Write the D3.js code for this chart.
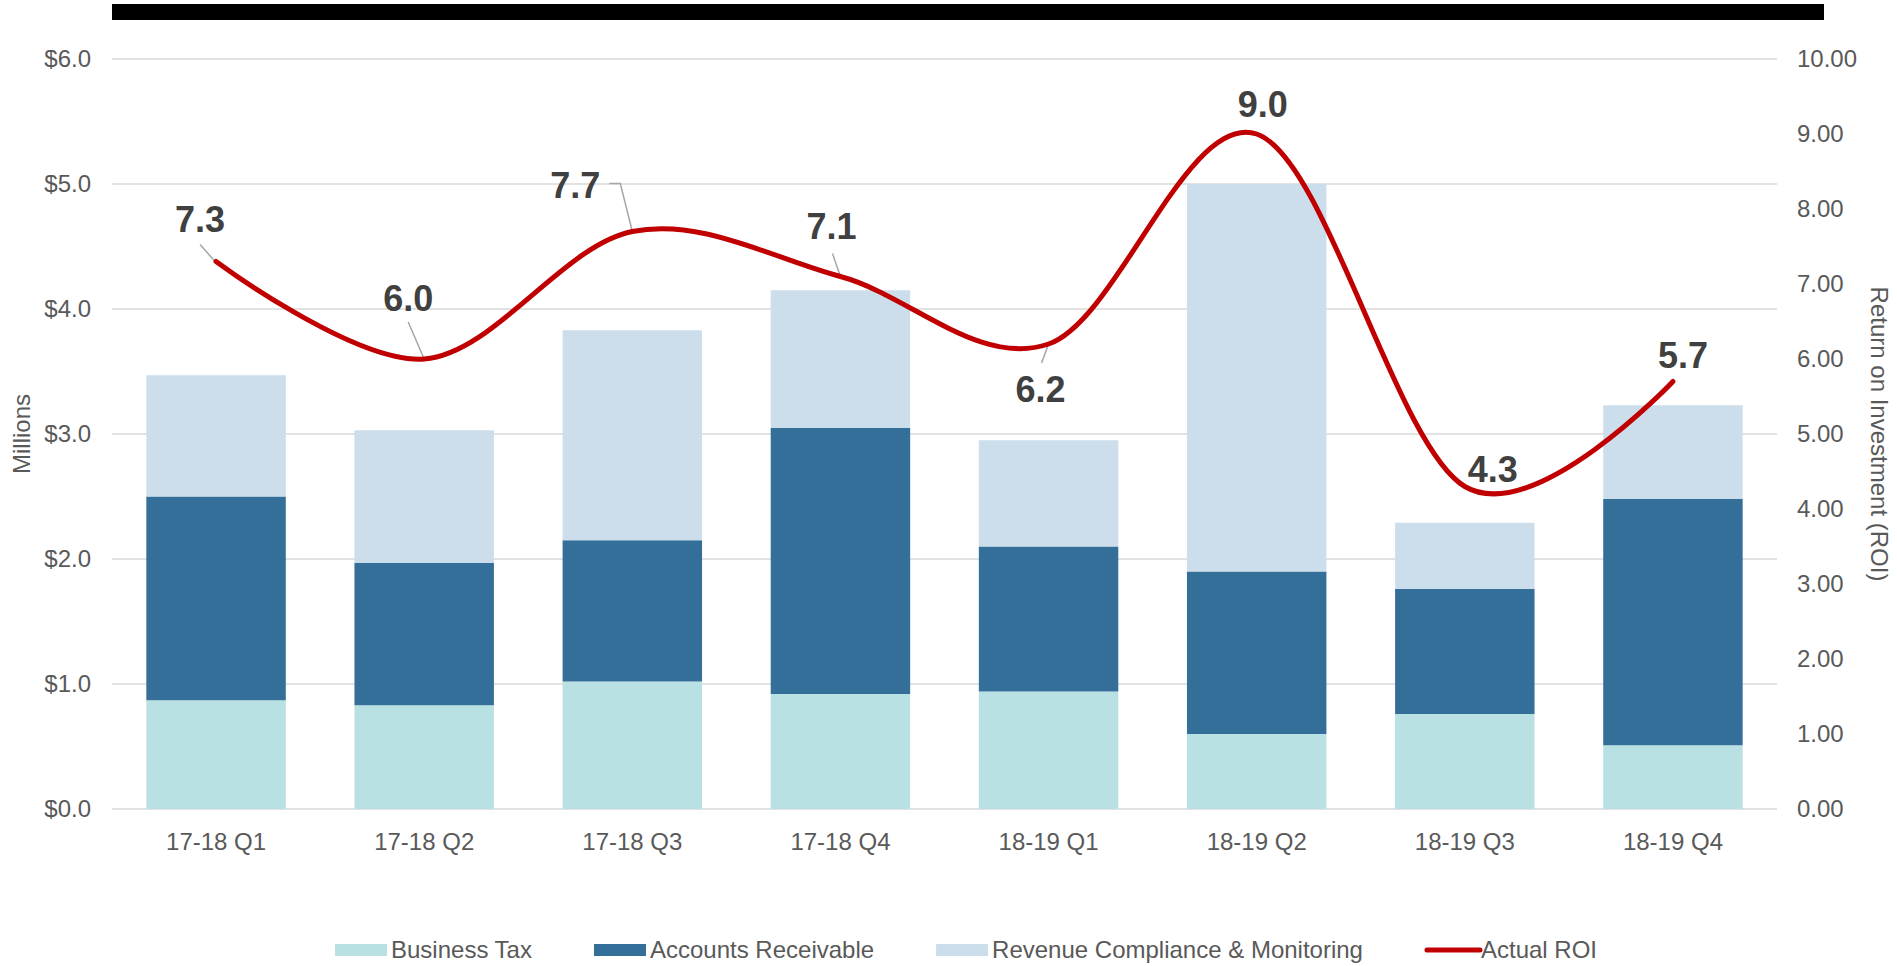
<!DOCTYPE html>
<html>
<head>
<meta charset="utf-8">
<script src="https://cdn.jsdelivr.net/npm/d3@7"></script>
<style>
  body { margin: 0; background: #fff; }
  svg { display: block; font-family: "Liberation Sans", Arial, sans-serif; }
</style>
</head>
<body>
<div id="chart"></div>
<script>
// chart values
const quarters = ["17-18 Q1", "17-18 Q2", "17-18 Q3", "17-18 Q4", "18-19 Q1", "18-19 Q2", "18-19 Q3", "18-19 Q4"]
const businessTax = [0.87, 0.83, 1.02, 0.92, 0.94, 0.60, 0.76, 0.51]
const accountsReceivable = [1.63, 1.14, 1.13, 2.13, 1.16, 1.30, 1.00, 1.97]
const revenueCompliance = [0.97, 1.06, 1.68, 1.10, 0.85, 3.10, 0.53, 0.75]
const actualROI = [7.3, 6.0, 7.7, 7.1, 6.2, 9.0, 4.3, 5.7]
const leftTicks = [0, 1, 2, 3, 4, 5, 6]
const rightTicks = [0, 1, 2, 3, 4, 5, 6, 7, 8, 9, 10]
const seriesNames = ["Business Tax", "Accounts Receivable", "Revenue Compliance & Monitoring", "Actual ROI"]

const width = 1897
const height = 966
const plotLeft = 112, plotRight = 1777, plotTop = 59, plotBottom = 809

const colors = {
  "Business Tax": "#B9E0E3",
  "Accounts Receivable": "#336F99",
  "Revenue Compliance & Monitoring": "#CCDEEC",
  "Actual ROI": "#C00000"
}

// label offsets from each ROI point (label centre/baseline + leader path)
const labelPlacement = [
  { dx: -16, dy: -30, leader: [[-16, -17], [-1, 0]] },
  { dx: -16, dy: -48, leader: [[-16, -37], [0, 0]] },
  { dx: -57, dy: -34, leader: [[-23, -48], [-12, -48], [0, 0]] },
  { dx: -9, dy: -38, leader: [[-8, -23], [0, 0]] },
  { dx: -8, dy: 58, leader: [[-7, 19], [0, 0]] },
  { dx: 6, dy: -17, leader: null },
  { dx: 28, dy: -5, leader: null },
  { dx: 10, dy: -14, leader: null }
]

const svg = d3.select("#chart").append("svg")
  .attr("width", width)
  .attr("height", height)

// black band at top
svg.append("rect")
  .attr("x", 112).attr("y", 4)
  .attr("width", 1712).attr("height", 16)
  .attr("fill", "#000")

const x = d3.scaleBand()
  .domain(quarters)
  .range([plotLeft, plotRight])
  .paddingInner(0.33)
  .paddingOuter(0.165)

const yLeft = d3.scaleLinear().domain([0, 6]).range([plotBottom, plotTop])
const yRight = d3.scaleLinear().domain([0, 10]).range([plotBottom, plotTop])

// gridlines
svg.append("g")
  .selectAll("line")
  .data(leftTicks)
  .join("line")
  .attr("x1", plotLeft).attr("x2", plotRight)
  .attr("y1", d => yLeft(d)).attr("y2", d => yLeft(d))
  .attr("stroke", "#D9D9D9")
  .attr("stroke-width", 1.4)

// stacked bars
const rows = quarters.map((q, i) => ({
  quarter: q,
  "Business Tax": businessTax[i],
  "Accounts Receivable": accountsReceivable[i],
  "Revenue Compliance & Monitoring": revenueCompliance[i]
}))
const stack = d3.stack().keys(seriesNames.slice(0, 3))(rows)

svg.append("g")
  .selectAll("g")
  .data(stack)
  .join("g")
  .attr("fill", d => colors[d.key])
  .selectAll("rect")
  .data(d => d)
  .join("rect")
  .attr("x", d => x(d.data.quarter))
  .attr("width", x.bandwidth())
  .attr("y", d => yLeft(d[1]))
  .attr("height", d => yLeft(d[0]) - yLeft(d[1]))

// axes
const leftAxis = d3.axisLeft(yLeft).tickValues(leftTicks)
  .tickFormat(d => "$" + d3.format(".1f")(d)).tickSize(0).tickPadding(21)
const rightAxis = d3.axisRight(yRight).tickValues(rightTicks)
  .tickFormat(d3.format(".2f")).tickSize(0).tickPadding(20)
const bottomAxis = d3.axisBottom(x).tickSize(0).tickPadding(24)

svg.append("g").attr("transform", `translate(${plotLeft},0)`).call(leftAxis)
svg.append("g").attr("transform", `translate(${plotRight},0)`).call(rightAxis)
svg.append("g").attr("transform", `translate(0,${plotBottom})`).call(bottomAxis)

svg.selectAll(".domain").remove()
svg.selectAll(".tick text")
  .attr("fill", "#595959")
  .attr("font-size", 24)
  .attr("font-family", "Liberation Sans, Arial, sans-serif")

// axis titles
svg.append("text")
  .attr("transform", `translate(22,${(plotTop + plotBottom) / 2}) rotate(-90)`)
  .attr("text-anchor", "middle")
  .attr("dy", "0.35em")
  .attr("font-size", 24)
  .attr("fill", "#595959")
  .text("Millions")

svg.append("text")
  .attr("transform", `translate(1879,${(plotTop + plotBottom) / 2}) rotate(90)`)
  .attr("text-anchor", "middle")
  .attr("dy", "0.35em")
  .attr("font-size", 24)
  .attr("fill", "#595959")
  .text("Return on Investment (ROI)")

// ROI line
const cx = q => x(q) + x.bandwidth() / 2
const roiLine = d3.line()
  .x((d, i) => cx(quarters[i]))
  .y(d => yRight(d))
  .curve(d3.curveCatmullRom.alpha(0))

// leader lines
const leaders = svg.append("g")
actualROI.forEach((v, i) => {
  const p = labelPlacement[i]
  if (!p.leader) return
  const px = cx(quarters[i]), py = yRight(v)
  leaders.append("path")
    .attr("d", d3.line()(p.leader.map(([a, b]) => [px + a, py + b])))
    .attr("fill", "none")
    .attr("stroke", "#A6A6A6")
    .attr("stroke-width", 1.5)
})

svg.append("path")
  .datum(actualROI)
  .attr("d", roiLine)
  .attr("fill", "none")
  .attr("stroke", colors["Actual ROI"])
  .attr("stroke-width", 5)
  .attr("stroke-linecap", "round")

// ROI labels
svg.append("g")
  .selectAll("text")
  .data(actualROI)
  .join("text")
  .attr("x", (d, i) => cx(quarters[i]) + labelPlacement[i].dx)
  .attr("y", (d, i) => yRight(d) + labelPlacement[i].dy)
  .attr("text-anchor", "middle")
  .attr("font-size", 36)
  .attr("font-weight", "bold")
  .attr("fill", "#404040")
  .text(d => d3.format(".1f")(d))

// legend
const legend = svg.append("g")
let lx = 335
const ly = 950
seriesNames.forEach(name => {
  if (name === "Actual ROI") {
    legend.append("line")
      .attr("x1", lx + 2).attr("x2", lx + 55)
      .attr("y1", ly).attr("y2", ly)
      .attr("stroke", colors[name])
      .attr("stroke-width", 5)
      .attr("stroke-linecap", "round")
  } else {
    legend.append("rect")
      .attr("x", lx).attr("y", ly - 6)
      .attr("width", 52).attr("height", 12)
      .attr("fill", colors[name])
  }
  const t = legend.append("text")
    .attr("x", lx + 56)
    .attr("y", ly)
    .attr("dy", "0.35em")
    .attr("font-size", 24)
    .attr("fill", "#595959")
    .text(name)
  lx += 56 + t.node().getComputedTextLength() + 62
})
</script>
</body>
</html>
